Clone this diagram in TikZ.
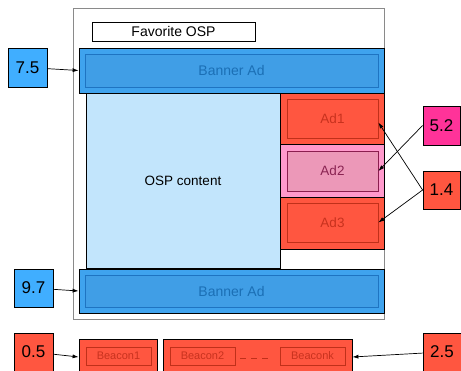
\documentclass[tikz,border=0pt]{standalone}
\usepackage{fontspec}
\setmainfont{Liberation Sans}
\usetikzlibrary{arrows.meta}
\definecolor{numblue}{HTML}{40AEFF}
\definecolor{banblue}{HTML}{3FA3EE}
\definecolor{baninner}{HTML}{409EE6}
\definecolor{banline}{HTML}{1E74C2}
\definecolor{bantext}{HTML}{1B6FB5}
\definecolor{osplight}{HTML}{C2E5FC}
\definecolor{adred}{HTML}{FF5640}
\definecolor{adline}{HTML}{C0301A}
\definecolor{adtext}{HTML}{C8321E}
\definecolor{adpink}{HTML}{FF99CC}
\definecolor{adpinkin}{HTML}{EC98B8}
\definecolor{pinkline}{HTML}{8B1E4F}
\definecolor{pinktext}{HTML}{8A2452}
\definecolor{hotpink}{HTML}{FF3399}
\definecolor{framegray}{HTML}{8A8A8A}
\begin{document}
\begin{tikzpicture}[x=1pt,y=-1pt,
    box/.style={draw,rectangle,inner sep=0pt,line width=0.8pt},
    score/.style={box,fill=#1,minimum width=39pt,minimum height=38pt,
      font=\fontsize{17}{19}\selectfont},
    banner/.style={box,fill=banblue,minimum width=305pt,minimum height=#1},
    bannerin/.style={box,draw=banline,fill=baninner,text=bantext,
      minimum width=293pt,minimum height=#1,font=\fontsize{14}{16}\selectfont},
    adbox/.style={box,fill=#1,minimum width=104pt},
    adin/.style={box,draw=adline,fill=adred,text=adtext,minimum width=91pt,
      font=\fontsize{13.5}{16}\selectfont},
    beaconbox/.style={box,fill=adred,minimum height=36pt},
    beaconin/.style={box,draw=adline,fill=adred,text=adtext,minimum width=65pt,
      minimum height=18pt,font=\fontsize{11}{13}\selectfont},
    link/.style={-{Latex[length=6pt,width=4pt]},line width=0.7pt}]
  \useasboundingbox (0,0) rectangle (461,371);
  % page frame
  \node[box,draw=framegray,line width=1pt,minimum width=311pt,minimum height=311pt]
    (frame) at (228.5,164.5) {};
  \node[box,minimum width=163pt,minimum height=19pt,font=\fontsize{14}{16}\selectfont]
    (title) at (173.5,31.5) {Favorite OSP};
  % content and ads
  \node[rectangle,fill=osplight,draw,line width=0.8pt,minimum width=194pt,minimum height=175pt,
    font=\fontsize{13.5}{16}\selectfont] (content) at (183,180.5) {OSP content};
  \node[adbox=adred,minimum height=51pt] (ad1) at (332,118.5) {};
  \node[adbox=adpink,minimum height=53pt] (ad2) at (332,170.5) {};
  \node[adbox=adred,minimum height=52pt] (ad3) at (332,223) {};
  \node[adin,minimum height=39pt] (ad1in) at (332.5,118.5) {Ad1};
  \node[adin,draw=pinkline,fill=adpinkin,text=pinktext,minimum height=40pt]
    (ad2in) at (332.5,171) {Ad2};
  \node[adin,minimum height=39pt] (ad3in) at (332.5,222.5) {Ad3};
  % banners
  \node[banner=45pt] (topban) at (231.5,70.5) {};
  \node[bannerin=33pt] (topbanin) at (231.5,70.5) {Banner Ad};
  \node[banner=44pt] (botban) at (231.5,291) {};
  \node[bannerin=32pt] (botbanin) at (231.5,291) {Banner Ad};
  % beacons
  \node[beaconbox,minimum width=78pt] (beacons1) at (118,357) {};
  \node[beaconin] (beacon1) at (118.5,356) {Beacon1};
  \node[beaconbox,minimum width=189pt] (beacons2) at (257.5,357) {};
  \node[beaconin] (beacon2) at (202.5,356) {Beacon2};
  \node[beaconin] (beaconk) at (312.5,356) {Beaconk};
  \draw[adline,line width=0.8pt,dash pattern=on 6pt off 5pt,shorten <=5pt,shorten >=9pt]
    ([yshift=-2pt]beacon2.east) -- ([yshift=-2pt]beaconk.west);
  % scores
  \node[score=numblue,minimum height=39pt] (s75) at (27.5,67.5) {7.5};
  \node[score=numblue] (s97) at (33.5,288) {9.7};
  \node[score=hotpink,minimum width=37pt,minimum height=39pt] (s52) at (441.5,125.5) {5.2};
  \node[score=adred,minimum width=37pt] (s14) at (441.5,190) {1.4};
  \node[score=adred] (s05) at (33.5,352) {0.5};
  \node[score=adred,minimum width=38pt] (s25) at (442,352) {2.5};
  \begin{scope}[link]
    \draw (s75) to (topban.west);
    \draw (s97) to (botban.west);
    \draw (s05) to (beacons1.west);
    \draw (s25) to (beacons2.east);
    \draw (s52.west) to (ad2in.east);
    \draw (s14.west) to ([yshift=-4pt]ad1in.east);
    \draw (s14.west) to (ad3in.east);
  \end{scope}
\end{tikzpicture}
\end{document}
